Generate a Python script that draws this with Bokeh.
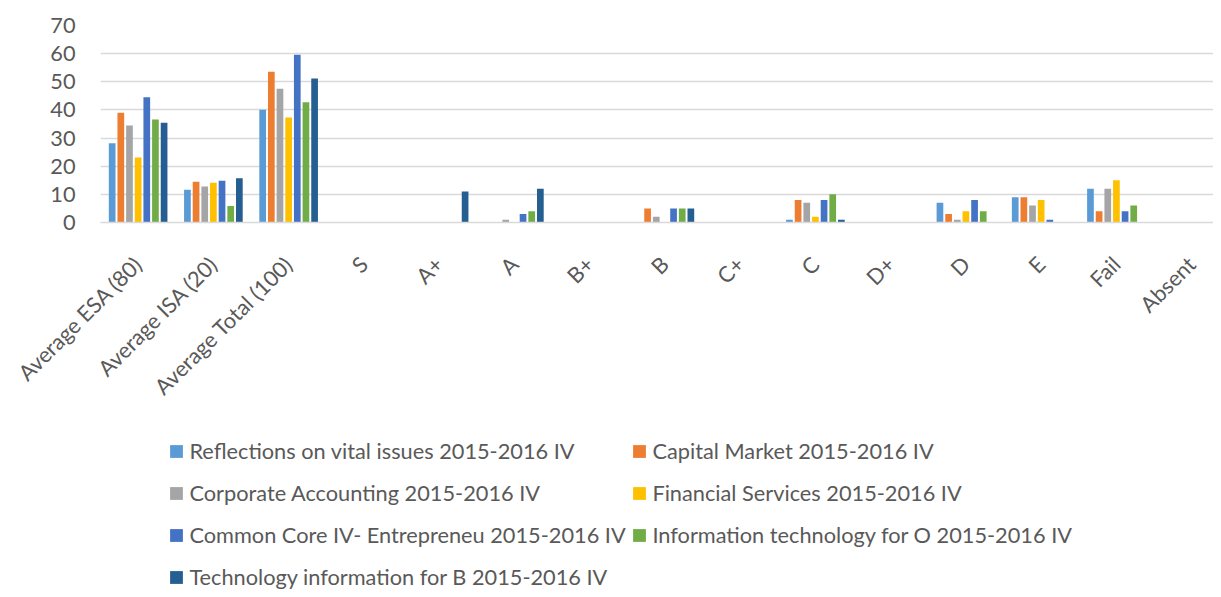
from bokeh.plotting import figure
from bokeh.layouts import column
from bokeh.models import ColumnDataSource, FixedTicker, Legend, LegendItem, Range1d
from bokeh.transform import dodge
from bokeh.embed import file_html
from bokeh.resources import INLINE

categories = ["Average ESA (80)", "Average ISA (20)", "Average Total (100)", "S", "A+", "A",
              "B+", "B", "C+", "C", "D+", "D", "E", "Fail", "Absent"]

series_names = [
    "Reflections on vital issues 2015-2016 IV",
    "Capital Market 2015-2016 IV",
    "Corporate Accounting 2015-2016 IV",
    "Financial Services 2015-2016 IV",
    "Common Core IV- Entrepreneu 2015-2016 IV",
    "Information technology for O 2015-2016 IV",
    "Technology information for B 2015-2016 IV",
]

reflections = [28.2, 11.6, 40.1, 0, 0, 0, 0, 0, 0, 1, 0, 7, 9, 12, 0]
capital_market = [39.0, 14.5, 53.6, 0, 0, 0, 0, 5, 0, 8, 0, 3, 9, 4, 0]
corporate_acc = [34.5, 12.8, 47.5, 0, 0, 1, 0, 2, 0, 7, 0, 1, 6, 12, 0]
financial_srv = [23.1, 14.1, 37.3, 0, 0, 0, 0, 0, 0, 2, 0, 4, 8, 15, 0]
common_core = [44.5, 14.8, 59.6, 0, 0, 3, 0, 5, 0, 8, 0, 8, 1, 4, 0]
info_tech_o = [36.6, 5.9, 42.7, 0, 0, 4, 0, 5, 0, 10, 0, 4, 0, 6, 0]
tech_info_b = [35.4, 15.7, 51.2, 0, 11, 12, 0, 5, 0, 1, 0, 0, 0, 0, 0]

colors = ["#5B9BD5", "#ED7D31", "#A5A5A5", "#FFC000", "#4472C4", "#70AD47", "#255E91"]

all_series = [reflections, capital_market, corporate_acc, financial_srv,
              common_core, info_tech_o, tech_info_b]

xs = [i + 0.5 for i in range(len(categories))]
data = {"x": xs}
for k, s in enumerate(all_series):
    data["s%d" % k] = s
source = ColumnDataSource(data)

FONT = "Lato"
FS = "21.75px"
TXT = "#595959"

# ---------------- chart ----------------
p = figure(width=1213, height=420, output_backend="svg", toolbar_location=None,
           x_range=Range1d(0, 14.79), y_range=Range1d(0, 70),
           min_border_left=100, min_border_right=0, min_border_top=25, min_border_bottom=198)
p.outline_line_color = None
p.xgrid.visible = False
p.ygrid.grid_line_color = "#D9D9D9"
p.ygrid.grid_line_width = 1.3
p.yaxis.ticker = FixedTicker(ticks=[0, 10, 20, 30, 40, 50, 60, 70])
p.yaxis.axis_line_color = None
p.yaxis.major_tick_line_color = None
p.yaxis.minor_tick_line_color = None
p.yaxis.major_tick_out = 0
p.yaxis.major_tick_in = 0
p.yaxis.major_label_standoff = 25
p.yaxis.major_label_text_font = FONT
p.yaxis.major_label_text_font_size = FS
p.yaxis.major_label_text_color = TXT

p.xaxis.ticker = FixedTicker(ticks=xs)
p.xaxis.major_label_overrides = {x: c for x, c in zip(xs, categories)}
p.xaxis.major_label_orientation = 0.785398
p.xaxis.axis_line_color = "#D9D9D9"
p.xaxis.axis_line_width = 1.3
p.xaxis.major_tick_line_color = None
p.xaxis.minor_tick_line_color = None
p.xaxis.major_label_standoff = 32
p.xaxis.major_label_text_font = FONT
p.xaxis.major_label_text_font_size = FS
p.xaxis.major_label_text_color = TXT

step = 0.115
for k in range(len(all_series)):
    p.vbar(x=dodge("x", (k - 3) * step, range=p.x_range), top="s%d" % k, width=0.089,
           source=source, fill_color=colors[k], line_color=None)

# ---------------- legend strip ----------------
# same series drawn into a y-window far above the data, so only the legend swatches show
p2 = figure(width=1213, height=169, output_backend="svg", toolbar_location=None,
            x_range=Range1d(0, 14.79), y_range=Range1d(1000, 1001),
            min_border_left=0, min_border_right=0, min_border_top=0, min_border_bottom=0)
p2.axis.visible = False
p2.grid.visible = False
p2.outline_line_color = None

swatches = [p2.vbar(x="x", top="s%d" % k, width=0.089, source=source,
                    fill_color=colors[k], line_color=None) for k in range(len(all_series))]

common = dict(orientation="vertical", padding=0, margin=0, spacing=14, label_height=28,
              glyph_height=16, glyph_width=16, label_standoff=5, border_line_color=None,
              background_fill_alpha=0, label_text_font=FONT, label_text_font_size=FS,
              label_text_color=TXT)

leg1 = Legend(items=[LegendItem(label=series_names[i], renderers=[swatches[i]]) for i in (0, 2, 4, 6)],
              location=(68.4, -2), **common)
leg2 = Legend(items=[LegendItem(label=series_names[i], renderers=[swatches[i]]) for i in (1, 3, 5)],
              location=(531.4, 40), **common)
p2.add_layout(leg1)
p2.add_layout(leg2)

open("out.html", "w").write(file_html(column(p, p2), INLINE))
